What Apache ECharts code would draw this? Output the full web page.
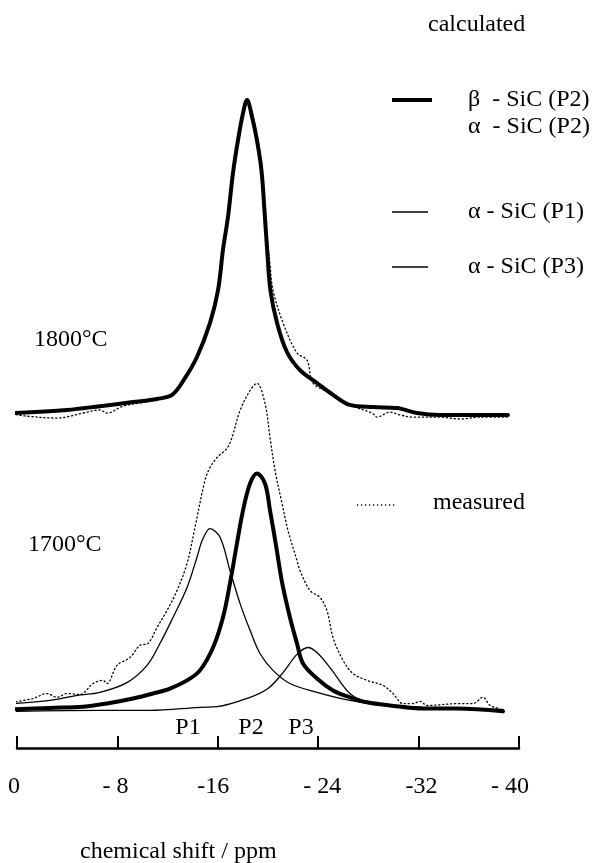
<!DOCTYPE html>
<html>
<head>
<meta charset="utf-8">
<script src="https://cdn.jsdelivr.net/npm/echarts@6/dist/echarts.min.js"></script>
<style>
  html, body { margin: 0; padding: 0; background: #fff; }
  #chart { width: 601px; height: 863px; }
</style>
</head>
<body>
<div id="chart"></div>
<script>
// ---- data (chemical shift in ppm, intensity in arbitrary units relative to each spectrum's baseline) ----
const xTickLabels = ["0", "- 8", "-16", "- 24", "-32", "- 40"];

// 1800 °C, calculated (beta/alpha P2)
const upperFitPpm = [0.40,-3.98,-6.61,-9.24,-11.16,-12.35,-13.23,-14.34,-15.38,-16.02,-16.41,-16.81,-17.21,-17.61,-18.01,-18.33,-18.73,-19.12,-19.48,-19.74,-19.96,-20.20,-20.72,-21.51,-22.55,-23.90,-25.18,-26.53,-28.37,-30.28,-31.87,-33.71,-36.33,-39.12];
const upperFitInt = [0,1.0,2.2,3.5,4.5,5.8,10.2,17.9,28.8,39.3,52.1,62.6,76.7,87.2,95.8,100,94.6,87.2,77.5,63.5,50.5,39.0,28.8,19.5,13.7,9.6,5.8,2.6,1.9,1.6,0,-0.6,-0.6,-0.6];

// 1800 °C, measured
const upperMeasPpm = [0.40,-0.80,-3.19,-5.26,-6.61,-7.17,-8.45,-10.60,-12.35,-13.23,-14.34,-15.38,-16.02,-16.41,-16.81,-17.21,-17.61,-18.01,-18.33,-18.73,-19.12,-19.52,-19.84,-20.16,-20.40,-21.20,-22.31,-23.11,-23.59,-24.94,-26.77,-28.29,-28.69,-29.72,-30.52,-31.55,-33.71,-35.30,-36.89,-39.04];
const upperMeasInt = [-0.3,-1.0,-1.6,0,1.0,0,2.2,3.8,5.8,10.2,18.2,29.1,39.6,51.4,62.3,76.0,86.6,94.9,99.0,96.2,87.9,77.0,60.7,47.3,39.3,28.8,19.2,16.9,9.6,6.4,2.2,0,-1.3,0.3,-0.6,-1.3,-1.3,-1.9,-1.3,-1.3];

// 1700 °C, calculated P2 (beta + alpha)
const lowerP2Ppm = [0.56,-2.63,-5.26,-7.17,-9.24,-10.84,-12.19,-13.55,-14.58,-15.62,-16.41,-16.97,-17.53,-18.01,-18.57,-19.12,-19.76,-20.16,-20.64,-21.12,-21.75,-22.31,-22.79,-23.90,-25.18,-26.53,-27.89,-29.72,-32.35,-35.06,-38.73];
const lowerP2Int = [0.3,0.8,1.2,2.2,3.8,5.4,7.0,9.6,12.8,20.1,29.7,40.6,53.4,63.9,72.5,75.7,72.5,63.9,52.7,40.9,29.7,21.4,15.0,10.2,6.4,4.2,2.6,1.6,0.6,0.6,-0.3];

// 1700 °C, calculated alpha P1
const lowerP1Ppm = [0.40,-2.63,-4.78,-6.61,-8.76,-10.36,-11.39,-12.43,-13.55,-14.34,-14.78,-15.38,-16.18,-16.97,-17.77,-18.57,-19.36,-20.40,-21.75,-23.90,-26.53,-29.16,-32.11,-35.30,-38.73];
const lowerP1Int = [2.2,3.2,4.8,5.8,8.9,14.4,21.4,29.7,39.3,48.9,54.5,58.1,55.3,44.7,34.2,25.6,18.2,12.8,8.6,5.8,3.2,1.6,1.0,0.6,0.3];

// 1700 °C, calculated alpha P3
const lowerP3Ppm = [0.40,-6.61,-10.60,-14.58,-15.94,-18.57,-20.00,-21.20,-22.31,-23.19,-23.90,-24.94,-26.53,-27.89,-29.72,-32.11,-35.30,-38.73];
const lowerP3Int = [-0.3,0,0,1.0,1.2,4.2,7.0,12.1,17.9,20.1,18.5,13.7,5.4,2.6,1.6,1.0,0.6,0];

// 1700 °C, measured
const lowerMeasPpm = [0.40,-1.27,-2.39,-3.19,-3.98,-5.02,-6.06,-6.85,-7.17,-7.97,-9.00,-9.80,-10.44,-11.16,-11.95,-12.75,-13.55,-14.18,-14.98,-15.38,-15.94,-16.73,-17.13,-17.77,-18.57,-19.12,-19.76,-20.16,-20.56,-21.12,-21.59,-22.31,-22.55,-23.35,-24.14,-24.70,-25.18,-25.98,-26.77,-27.89,-29.16,-29.96,-30.76,-31.55,-32.11,-32.67,-35.30,-36.33,-37.13,-37.69,-38.49];
const lowerMeasInt = [2.6,3.8,5.4,4.2,5.4,5.1,8.6,9.6,8.6,14.4,16.9,20.8,21.4,26.5,31.9,38.3,47.0,58.5,73.5,77.6,80.8,83.7,87.2,95.8,102.2,104.5,98.1,87.2,76.7,66.1,57.5,47.9,44.7,38.3,36.1,31.9,23.3,16.0,11.8,9.6,8.0,5.4,2.2,2.2,2.9,1.6,2.2,2.2,4.2,1.6,0.6];

// vertical stacking offsets of the two spectra
const upperOffset = 107;
const lowerOffset = 12;

// ---- chart ----
const FONT = '"Liberation Serif", "Times New Roman", serif';
const chart = echarts.init(document.getElementById('chart'), null, { renderer: 'canvas' });

function pairs(xs, ys, off) { return xs.map((x, i) => [x, ys[i] + off]); }

function lineSeries(name, xs, ys, off, width, dotted) {
  return {
    name: name, type: 'line', data: pairs(xs, ys, off),
    showSymbol: false, symbol: 'none', smooth: 0.35, clip: false,
    lineStyle: { color: '#000', width: width, type: dotted ? [1.2, 2.8] : 'solid', cap: 'round', join: 'round' },
    z: dotted ? 1 : 2, silent: true, animation: false
  };
}

function txt(s, x, y, align) {
  return { type: 'text', x: x, y: y, silent: true,
    style: { text: s, font: '24px ' + FONT, fill: '#000', align: align || 'left', verticalAlign: 'middle' } };
}
function seg(x1, x2, y, w, dash) {
  return { type: 'line', silent: true, shape: { x1: x1, y1: y, x2: x2, y2: y },
    style: { stroke: '#000', lineWidth: w, lineDash: dash || null } };
}

const labBase = { fontSize: 24, fontFamily: FONT, color: '#000' };
const labPads = [[0, 6, 0, 0], [0, 4, 0, 0], [0, 9, 0, 0], [0, 0, 0, 8], [0, 0, 0, 6], [0, 18, 0, 0]];
const rich = {};
labPads.forEach((p, i) => { rich['l' + i] = Object.assign({ padding: p }, labBase); });

const option = {
  backgroundColor: '#fff',
  animation: false,
  grid: { left: 17, right: 82, top: 100, bottom: 115, containLabel: false },
  xAxis: {
    type: 'value', inverse: true, min: -40, max: 0, interval: 8,
    axisLine: { show: true, lineStyle: { color: '#000', width: 2.5 } },
    axisTick: { show: true, inside: true, length: 12, lineStyle: { color: '#000', width: 2 } },
    splitLine: { show: false },
    axisLabel: {
      margin: 27, color: '#000', fontSize: 24, fontFamily: FONT, rich: rich,
      formatter: function (v) { const i = Math.round(-v / 8); return '{l' + i + '|' + xTickLabels[i] + '}'; }
    }
  },
  yAxis: { type: 'value', min: 0, max: 207, show: false, splitLine: { show: false } },
  series: [
    lineSeries('measured 1800', upperMeasPpm, upperMeasInt, upperOffset, 1.3, true),
    lineSeries('β - SiC (P2) 1800', upperFitPpm, upperFitInt, upperOffset, 4, false),
    lineSeries('measured 1700', lowerMeasPpm, lowerMeasInt, lowerOffset, 1.3, true),
    lineSeries('α - SiC (P1)', lowerP1Ppm, lowerP1Int, lowerOffset, 1.3, false),
    lineSeries('α - SiC (P3)', lowerP3Ppm, lowerP3Int, lowerOffset, 1.3, false),
    lineSeries('β - SiC (P2) 1700', lowerP2Ppm, lowerP2Int, lowerOffset, 4, false)
  ],
  graphic: [
    txt('calculated', 428, 25),
    seg(392, 432, 100, 4),
    txt('β  - SiC (P2)', 468, 100),
    txt('α  - SiC (P2)', 468, 127),
    seg(392, 428, 212, 1.5),
    txt('α - SiC (P1)', 468, 212),
    seg(392, 428, 267, 1.5),
    txt('α - SiC (P3)', 468, 267),
    seg(357, 395, 505, 1.3, [1.2, 2.8]),
    txt('measured', 433, 503),
    txt('1800°C', 34, 340),
    txt('1700°C', 28, 545),
    txt('P1', 188, 728, 'center'),
    txt('P2', 251, 728, 'center'),
    txt('P3', 301, 728, 'center'),
    txt('chemical shift / ppm', 80, 852)
  ]
};
chart.setOption(option);
</script>
</body>
</html>
